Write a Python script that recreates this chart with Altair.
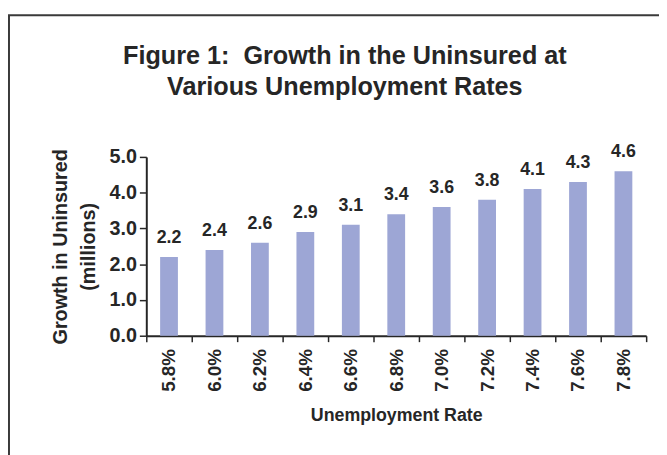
import altair as alt
import pandas as pd

rates = ["5.8%", "6.0%", "6.2%", "6.4%", "6.6%", "6.8%", "7.0%", "7.2%", "7.4%", "7.6%", "7.8%"]
growth = [2.2, 2.4, 2.6, 2.9, 3.1, 3.4, 3.6, 3.8, 4.1, 4.3, 4.6]
y_ticks = [0, 1, 2, 3, 4, 5]
title_lines = ["Figure 1:\u00a0 Growth in the Uninsured at", "Various Unemployment Rates"]
y_title = ["Growth in Uninsured", "(millions)"]
x_title = "Unemployment Rate"

df = pd.DataFrame({"rate": rates, "growth": growth})
frame_df = pd.DataFrame({"k": [0]})

FONT = "Liberation Sans"
INK = "#262626"
BAR = "#9DA6D5"

x = alt.X(
    "rate:N",
    sort=rates,
    scale=alt.Scale(paddingInner=0, paddingOuter=0),
    axis=alt.Axis(
        title=x_title,
        labelAngle=-90,
        tickBand="extent",
        labelFontSize=19,
        labelPadding=7,
        tickSize=6,
        titlePadding=16,
        titleFontSize=18,
    ),
)
y = alt.Y(
    "growth:Q",
    scale=alt.Scale(domain=[0, 5], nice=False),
    axis=alt.Axis(
        values=y_ticks,
        format=".1f",
        title=y_title,
        grid=False,
        tickSize=7,
        labelPadding=3,
        labelFontSize=20,
        titleFontSize=20,
        titleLineHeight=28,
        titlePadding=11,
    ),
)

bars = alt.Chart(df).mark_bar(size=18, color=BAR).encode(x=x, y=y)
labels = alt.Chart(df).mark_text(
    dy=-19, fontSize=18, fontWeight="bold", color=INK, font=FONT
).encode(x=x, y=y, text=alt.Text("growth:Q", format=".1f"))

border = alt.Chart(frame_df).mark_rect(
    fill=None, filled=False, stroke="#3a3a3a", strokeWidth=2, clip=False
).encode(
    x=alt.value(-139),
    x2=alt.value(540),
    y=alt.value(-143.5),
    y2=alt.value(320),
)

chart = (
    alt.layer(border, bars, labels)
    .properties(
        width=506,
        height=181,
        padding={"left": 140, "top": 148, "right": 13, "bottom": 118},
        autosize=alt.AutoSizeParams(type="none"),
        title=alt.TitleParams(
            text=title_lines,
            fontSize=25.5,
            fontWeight="bold",
            font=FONT,
            color=INK,
            lineHeight=31,
            anchor="middle",
            frame="group",
            dx=-52,
            offset=-87,
        ),
    )
    .configure_view(stroke=None)
    .configure_axis(
        labelFont=FONT,
        titleFont=FONT,
        labelFontWeight="bold",
        titleFontWeight="bold",
        labelColor=INK,
        titleColor=INK,
        domainColor=INK,
        tickColor=INK,
        domainWidth=2,
        tickWidth=1.5,
    )
)

chart.save("out.html", embed_options={"renderer": "svg", "actions": False})
